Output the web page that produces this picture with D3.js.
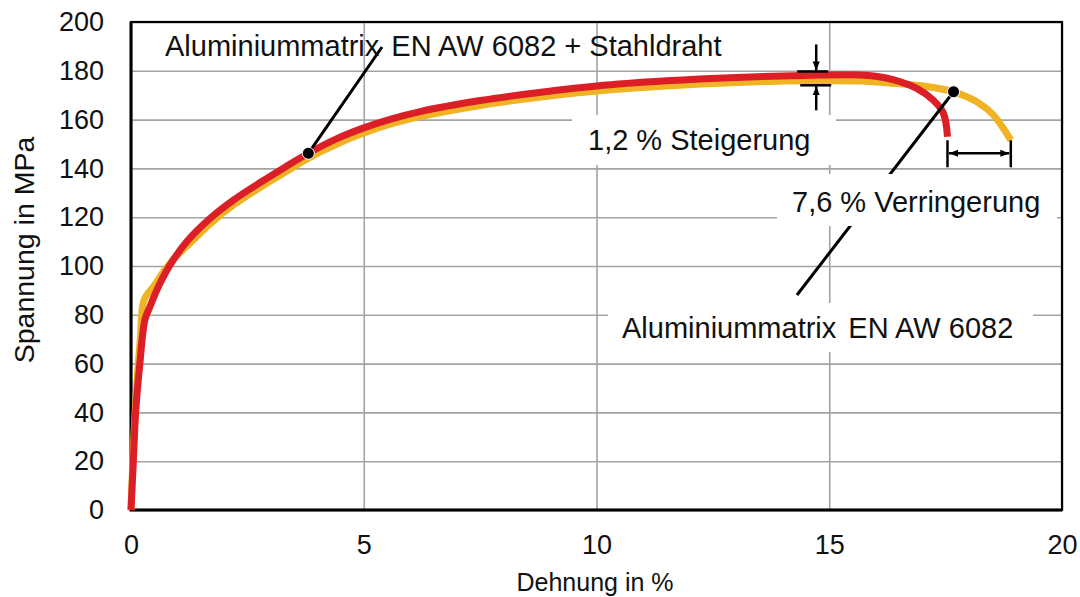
<!DOCTYPE html>
<html>
<head>
<meta charset="utf-8">
<script src="https://cdn.jsdelivr.net/npm/d3@7"></script>
<style>
  body { margin: 0; background: #fff; }
  text { font-family: "Liberation Sans", Arial, Helvetica, sans-serif; fill: #111; }
</style>
</head>
<body>
<svg id="chart" width="1080" height="597"></svg>
<script>
// Axis ticks
const xTicks = [0, 5, 10, 15, 20];
const yTicks = [0, 20, 40, 60, 80, 100, 120, 140, 160, 180, 200];

// Aluminiummatrix EN AW 6082 + Stahldraht (composite)
const strainComposite = [0, 0.05, 0.1, 0.19, 0.3, 0.4, 0.6, 0.84, 1.2, 1.7, 2.2, 2.8, 3.3, 3.81, 4.4, 5.0, 5.6, 6.21, 7.5, 8.5, 10, 11.5, 13, 14.44, 15.66, 16.0, 16.37, 16.88, 17.23, 17.45, 17.54];
const stressComposite = [0, 20, 40, 60, 78, 83, 92, 100.5, 110, 119.5, 127, 134.5, 140.4, 146.2, 152, 156.6, 160.3, 163.3, 167.8, 170.5, 173.8, 175.9, 177.3, 178.1, 178.3, 177.8, 176.4, 172.8, 168, 162.7, 153];

// Aluminiummatrix EN AW 6082 (matrix only)
const strainMatrix = [0, 0.05, 0.12, 0.2, 0.28, 0.5, 0.75, 1.0, 1.3, 1.7, 2.2, 2.8, 3.3, 3.81, 4.4, 5.0, 5.6, 6.21, 7.5, 8.5, 10, 11.5, 13, 14.44, 15.66, 16.37, 17.09, 17.67, 18.17, 18.52, 18.9];
const stressMatrix = [0, 25, 50, 70, 86, 92, 99, 104.5, 110, 117.3, 125, 132.5, 138.3, 144.2, 149.8, 154.5, 158.3, 161.2, 165.8, 168.5, 171.7, 173.8, 175.2, 175.9, 175.8, 174.9, 173.6, 171.4, 167.3, 162, 151.6];

// Labels
const xTitle = "Dehnung in %";
const yTitle = "Spannung in MPa";
const labelComposite = ["Aluminiummatrix", "EN AW 6082 + Stahldraht"];
const labelMatrix = ["Aluminiummatrix", "EN AW 6082"];
const labelStrength = "1,2 % Steigerung";
const labelElongation = "7,6 % Verringerung";

// Points marked on the curves for the leader lines
const markComposite = 13;   // index into composite arrays
const markMatrix = 27;      // index into matrix arrays

const svg = d3.select("#chart");
const plot = { left: 131, right: 1062, top: 22, bottom: 510 };

const x = d3.scaleLinear().domain([0, 20]).range([plot.left, plot.right]);
const y = d3.scaleLinear().domain([0, 200]).range([plot.bottom, plot.top]);

const gridColor = "#a3a3a3";
const labelSize = 29;

// Arrowhead
svg.append("defs").append("marker")
  .attr("id", "arrow")
  .attr("viewBox", "0 0 10 10")
  .attr("refX", 10).attr("refY", 5)
  .attr("markerWidth", 9).attr("markerHeight", 9)
  .attr("markerUnits", "userSpaceOnUse")
  .attr("orient", "auto-start-reverse")
  .append("path").attr("d", "M0,1 L10,5 L0,9 Z").attr("fill", "#000");

// Y axis with horizontal gridlines
const yAxis = svg.append("g")
  .attr("transform", `translate(${plot.left},0)`)
  .call(d3.axisLeft(y).tickValues(yTicks).tickSize(-(plot.right - plot.left)).tickPadding(27));
yAxis.select(".domain").remove();
yAxis.selectAll(".tick line").attr("stroke", gridColor).attr("stroke-width", 1.6);
yAxis.selectAll(".tick text")
  .style("font-family", '"Liberation Sans", Arial, sans-serif')
  .attr("font-size", 27).attr("fill", "#111");

// X axis with vertical gridlines
const xAxis = svg.append("g")
  .attr("transform", `translate(0,${plot.bottom})`)
  .call(d3.axisBottom(x).tickValues(xTicks).tickSize(-(plot.bottom - plot.top)).tickPadding(25));
xAxis.select(".domain").remove();
xAxis.selectAll(".tick line").attr("stroke", gridColor).attr("stroke-width", 1.6);
xAxis.selectAll(".tick text")
  .style("font-family", '"Liberation Sans", Arial, sans-serif')
  .attr("font-size", 27).attr("fill", "#111");

// Plot frame
svg.append("rect")
  .attr("x", plot.left).attr("y", plot.top)
  .attr("width", plot.right - plot.left).attr("height", plot.bottom - plot.top)
  .attr("fill", "none").attr("stroke", "#000").attr("stroke-width", 2.2);
svg.append("path")
  .attr("d", `M${plot.left},${plot.top} V${plot.bottom} H${plot.right}`)
  .attr("fill", "none").attr("stroke", "#000").attr("stroke-width", 3);

// Axis titles
svg.append("text")
  .attr("transform", `translate(34,250) rotate(-90)`)
  .attr("text-anchor", "middle").attr("font-size", 28.5)
  .text(yTitle);
svg.append("text")
  .attr("x", 595).attr("y", 591)
  .attr("text-anchor", "middle").attr("font-size", 25)
  .text(xTitle);

// Curves
const line = d3.line()
  .x(d => x(d[0])).y(d => y(d[1]))
  .curve(d3.curveCatmullRom.alpha(0.5));

const matrixPts = d3.zip(strainMatrix, stressMatrix);
const compositePts = d3.zip(strainComposite, stressComposite);

svg.append("path").datum(matrixPts)
  .attr("d", line).attr("fill", "none")
  .attr("stroke", "#f0b323").attr("stroke-width", 7)
  .attr("stroke-linejoin", "round");
svg.append("path").datum(compositePts)
  .attr("d", line).attr("fill", "none")
  .attr("stroke", "#dc1f27").attr("stroke-width", 7)
  .attr("stroke-linejoin", "round");

// Leader lines
const pC = compositePts[markComposite];
const pM = matrixPts[markMatrix];
svg.append("line")
  .attr("x1", x(pC[0])).attr("y1", y(pC[1]))
  .attr("x2", 382).attr("y2", 47)
  .attr("stroke", "#000").attr("stroke-width", 3);
svg.append("line")
  .attr("x1", x(pM[0])).attr("y1", y(pM[1]))
  .attr("x2", 797).attr("y2", 295)
  .attr("stroke", "#000").attr("stroke-width", 3);

// Text labels, some on white backing
function addLabel(tx, ty, parts) {
  const t = svg.append("text").attr("x", tx).attr("y", ty).attr("font-size", labelSize);
  if (Array.isArray(parts)) {
    t.append("tspan").text(parts[0]);
    t.append("tspan").attr("dx", 12).text(parts[1]);
  } else {
    t.text(parts);
  }
}
function boxedLabel(bx, by, bw, bh, tx, ty, parts) {
  svg.append("rect").attr("x", bx).attr("y", by).attr("width", bw).attr("height", bh).attr("fill", "#fff");
  addLabel(tx, ty, parts);
}

boxedLabel(572, 115, 264, 50, 588, 150, labelStrength);
boxedLabel(777, 174, 280, 52, 792, 212, labelElongation);
boxedLabel(608, 303, 425, 49, 622, 338, labelMatrix);
addLabel(165, 56, labelComposite);

// Marker dots
[pC, pM].forEach(p => {
  svg.append("circle")
    .attr("cx", x(p[0])).attr("cy", y(p[1])).attr("r", 6)
    .attr("fill", "#000").attr("stroke", "#fff").attr("stroke-width", 1);
});

// Strength difference: ticks at the two maxima, arrows pointing inwards
const maxC = d3.max(stressComposite), maxM = d3.max(stressMatrix);
const sx = x(14.72);
const yTop = y(maxC) - 3.5, yBot = y(maxM) + 4.5;
svg.append("line").attr("x1", sx - 19).attr("x2", sx + 12).attr("y1", yTop).attr("y2", yTop)
  .attr("stroke", "#000").attr("stroke-width", 2.5);
svg.append("line").attr("x1", sx - 16).attr("x2", sx + 15).attr("y1", yBot).attr("y2", yBot)
  .attr("stroke", "#000").attr("stroke-width", 2.5);
svg.append("line").attr("x1", sx).attr("x2", sx).attr("y1", yTop - 27).attr("y2", yTop - 1)
  .attr("stroke", "#000").attr("stroke-width", 2.5).attr("marker-end", "url(#arrow)");
svg.append("line").attr("x1", sx).attr("x2", sx).attr("y1", yBot + 25).attr("y2", yBot + 1)
  .attr("stroke", "#000").attr("stroke-width", 2.5).attr("marker-end", "url(#arrow)");

// Elongation difference: ticks at the two end strains, double arrow between
const endC = strainComposite[strainComposite.length - 1];
const endM = strainMatrix[strainMatrix.length - 1];
const eY = y(146.2);
[endC, endM].forEach(e => {
  svg.append("line").attr("x1", x(e)).attr("x2", x(e)).attr("y1", eY - 13).attr("y2", eY + 14)
    .attr("stroke", "#000").attr("stroke-width", 2.5);
});
svg.append("line").attr("x1", x(endC) + 1.5).attr("x2", x(endM) - 1.5).attr("y1", eY).attr("y2", eY)
  .attr("stroke", "#000").attr("stroke-width", 2.5)
  .attr("marker-start", "url(#arrow)").attr("marker-end", "url(#arrow)");
</script>
</body>
</html>
